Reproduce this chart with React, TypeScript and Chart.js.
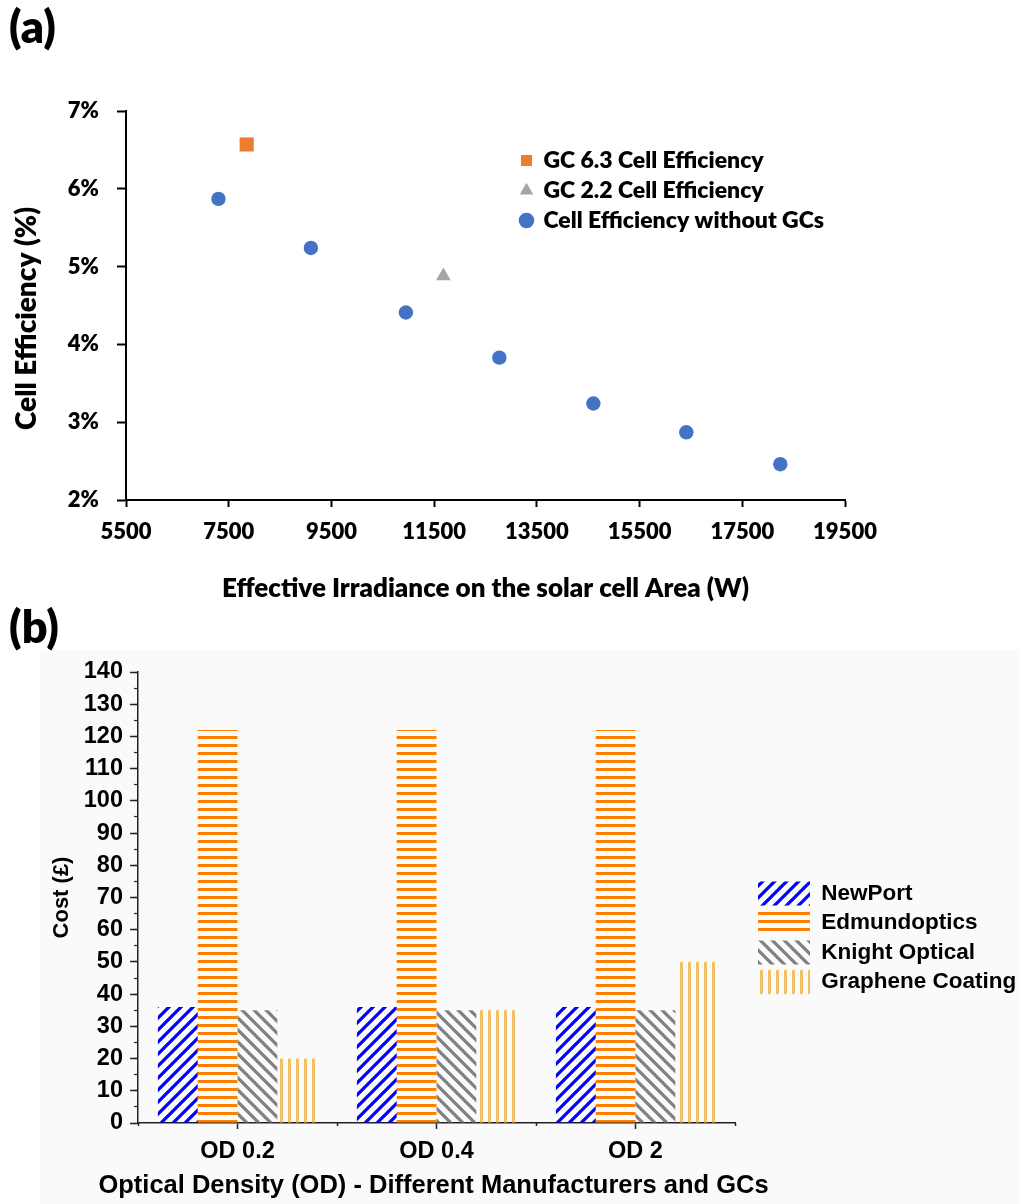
import React, { useEffect, useRef } from 'react';
import { Chart, registerables } from 'chart.js';

Chart.register(...registerables);

// ---------- Panel (a) data ----------
const irradianceNoGC = [7300, 9100, 10950, 12770, 14600, 16410, 18240];
const efficiencyNoGC = [5.87, 5.24, 4.41, 3.83, 3.24, 2.87, 2.46];
const irradianceGC63 = [7850];
const efficiencyGC63 = [6.57];
const irradianceGC22 = [11680];
const efficiencyGC22 = [4.88];
const xTickMin = 5500;
const xTickMax = 19500;
const xTickStep = 2000;
const yTickMin = 2;
const yTickMax = 7;
const yTickStep = 1;

// ---------- Panel (b) data ----------
const odCategories = ['OD 0.2', 'OD 0.4', 'OD 2'];
const newportCost = [36, 36, 36];
const edmundCost = [122, 122, 122];
const knightCost = [35, 35, 35];
const grapheneCost = [20, 35, 50];
const costMin = 0;
const costMax = 140;
const costStep = 10;
const costMinorStep = 5;
const costXTitle = 'Optical Density (OD) - Different Manufacturers and GCs';

type PatternKind = 'diagUp' | 'diagDown' | 'horiz' | 'vert';

function makePattern(kind: PatternKind, color: string, size: number, lw: number): CanvasPattern | string {
  const c = document.createElement('canvas');
  const long = size * 6;
  c.width = kind === 'horiz' ? long : size;
  c.height = kind === 'vert' ? long : size;
  const g = c.getContext('2d');
  if (!g) return color;
  g.fillStyle = color;
  g.strokeStyle = color;
  g.lineWidth = lw;
  if (kind === 'horiz') {
    g.fillRect(0, 0, long, lw);
  } else if (kind === 'vert') {
    g.fillRect(0, 0, lw, long);
  } else {
    g.beginPath();
    for (let k = -1; k <= 1; k++) {
      if (kind === 'diagUp') {
        g.moveTo(k * size - 1, size + 1);
        g.lineTo(k * size + size + 1, -1);
      } else {
        g.moveTo(k * size - 1, -1);
        g.lineTo(k * size + size + 1, size + 1);
      }
    }
    g.stroke();
  }
  return g.createPattern(c, 'repeat') || color;
}

const legendPlacer = (x: number, y: number) => ({
  id: 'legendPlacer',
  beforeDraw(chart: any) {
    const lg = chart.legend;
    if (!lg) return;
    const h = lg.bottom - lg.top;
    const w = lg.right - lg.left;
    lg.left = x;
    lg.top = y;
    lg.right = x + w;
    lg.bottom = y + h;
  },
});

const calibriLike = 'Lato, "Open Sans", sans-serif';
const arialLike = '"Liberation Sans", Arial, sans-serif';

function EfficiencyChart() {
  const ref = useRef<HTMLCanvasElement | null>(null);
  useEffect(() => {
    if (!ref.current) return;
    const tickFont = { family: calibriLike, size: 22, weight: '800' };
    const titleFont = { family: calibriLike, size: 26, weight: '800' };
    const yTitleFont = { family: calibriLike, size: 28, weight: '800' };
    const legendFont = { family: calibriLike, size: 23, weight: '800' };
    const chart = new Chart(ref.current, {
      type: 'scatter',
      data: {
        datasets: [
          {
            label: 'GC 6.3 Cell Efficiency',
            data: irradianceGC63.map((x, i) => ({ x, y: efficiencyGC63[i] })),
            pointStyle: 'rect',
            pointRadius: 10,
            pointBorderWidth: 0,
            borderWidth: 0,
            backgroundColor: '#ED7D31',
            borderColor: '#ED7D31',
          },
          {
            label: 'GC 2.2 Cell Efficiency',
            data: irradianceGC22.map((x, i) => ({ x, y: efficiencyGC22[i] })),
            pointStyle: 'triangle',
            pointRadius: 8.5,
            pointBorderWidth: 0,
            borderWidth: 0,
            backgroundColor: '#A5A5A5',
            borderColor: '#A5A5A5',
          },
          {
            label: 'Cell Efficiency without GCs',
            data: irradianceNoGC.map((x, i) => ({ x, y: efficiencyNoGC[i] })),
            pointStyle: 'circle',
            pointRadius: 7.2,
            pointBorderWidth: 0,
            borderWidth: 0,
            backgroundColor: '#4472C4',
            borderColor: '#4472C4',
          },
        ],
      },
      options: {
        responsive: false,
        animation: false,
        layout: { padding: { left: 0, top: 111, right: 175, bottom: 0 } },
        scales: {
          x: {
            type: 'linear',
            min: xTickMin,
            max: xTickMax,
            ticks: {
              stepSize: xTickStep,
              color: '#000',
              font: tickFont,
              padding: 12,
              maxRotation: 0,
              callback: (v: any) => String(v),
            },
            grid: { drawOnChartArea: false, tickLength: 7, tickColor: '#000', tickWidth: 2 },
            border: { color: '#000', width: 2 },
            title: {
              display: true,
              text: 'Effective Irradiance on the solar cell Area (W)',
              color: '#000',
              font: titleFont,
              padding: { top: 0, bottom: 1 },
            },
            afterFit: (s: any) => {
              s.height = 105;
            },
          },
          y: {
            type: 'linear',
            min: yTickMin,
            max: yTickMax,
            ticks: {
              stepSize: yTickStep,
              color: '#000',
              font: tickFont,
              padding: 18,
              callback: (v: any) => `${v}%`,
            },
            grid: { drawOnChartArea: false, tickLength: 9, tickColor: '#000', tickWidth: 2 },
            border: { color: '#000', width: 2 },
            title: {
              display: true,
              text: 'Cell Efficiency (%)    ',
              color: '#000',
              font: yTitleFont,
              padding: { top: 10, bottom: 0 },
            },
            afterFit: (s: any) => {
              s.width = 126;
            },
          },
        },
        plugins: {
          legend: {
            position: 'chartArea',
            align: 'start',
            labels: {
              usePointStyle: true,
              boxWidth: 11,
              boxHeight: 11,
              padding: 7,
              color: '#000',
              font: legendFont,
            },
          },
          tooltip: { enabled: false },
        },
      },
      plugins: [legendPlacer(514, 142)],
    } as any);
    return () => chart.destroy();
  }, []);
  return <canvas ref={ref} width={1020} height={605} style={{ display: 'block', width: 1020, height: 605 }} />;
}

function CostChart() {
  const ref = useRef<HTMLCanvasElement | null>(null);
  useEffect(() => {
    if (!ref.current) return;
    const tickFont = { family: arialLike, size: 23.5, weight: 'bold' as const };
    const legendFont = { family: arialLike, size: 22.5, weight: 'bold' as const };
    const axisColor = '#222';
    const xTitlePlugin = {
      id: 'costXTitle',
      afterDraw(chart: any) {
        const { ctx, chartArea } = chart;
        ctx.save();
        ctx.font = `bold 25.5px ${arialLike}`;
        ctx.fillStyle = '#000';
        ctx.textAlign = 'center';
        ctx.textBaseline = 'middle';
        ctx.fillText(costXTitle, (chartArea.left + chartArea.right) / 2 - 3, chartArea.bottom + 63);
        ctx.restore();
      },
    };
    const chart = new Chart(ref.current, {
      type: 'bar',
      data: {
        labels: odCategories,
        datasets: [
          { label: 'NewPort', data: newportCost, backgroundColor: makePattern('diagUp', '#0000FF', 12, 3.2), borderWidth: 0 },
          { label: 'Edmundoptics', data: edmundCost, backgroundColor: makePattern('horiz', '#FF8000', 8, 3), borderWidth: 0 },
          { label: 'Knight Optical', data: knightCost, backgroundColor: makePattern('diagDown', '#808080', 12, 3.2), borderWidth: 0 },
          { label: 'Graphene Coating', data: grapheneCost, backgroundColor: makePattern('vert', '#F2C062', 8, 3), borderWidth: 0 },
        ],
      },
      options: {
        responsive: false,
        animation: false,
        layout: { padding: { left: 40, top: 72, right: 285, bottom: 0 } },
        datasets: { bar: { categoryPercentage: 0.8, barPercentage: 1.0 } },
        scales: {
          x: {
            type: 'category',
            offset: true,
            ticks: { color: '#000', font: tickFont, padding: 8, maxRotation: 0 },
            grid: { offset: false, drawOnChartArea: false, tickLength: 6, tickColor: axisColor, tickWidth: 1.5 },
            border: { color: axisColor, width: 1.5 },
            title: { display: false },
            afterFit: (s: any) => {
              s.height = 81;
            },
          },
          x2: {
            type: 'category',
            position: 'bottom',
            weight: -1,
            offset: true,
            ticks: { display: false },
            grid: { offset: true, drawOnChartArea: false, tickLength: 3, tickColor: axisColor, tickWidth: 1.5 },
            border: { display: false },
            afterFit: (s: any) => {
              s.height = 0;
            },
          },
          y: {
            type: 'linear',
            min: costMin,
            max: costMax,
            ticks: { stepSize: costStep, color: '#000', font: tickFont, padding: 7 },
            grid: { drawOnChartArea: false, tickLength: 8, tickColor: axisColor, tickWidth: 1.5 },
            border: { color: axisColor, width: 1.5 },
            title: {
              display: true,
              text: 'Cost (£)',
              color: '#000',
              font: { family: arialLike, size: 22, weight: 'bold' },
              padding: { top: 9, bottom: 0 },
            },
            afterFit: (s: any) => {
              s.width = 98;
            },
          },
          y2: {
            type: 'linear',
            position: 'left',
            weight: -1,
            min: costMin,
            max: costMax,
            ticks: { display: false, stepSize: costMinorStep },
            grid: { drawOnChartArea: false, tickLength: 4, tickColor: axisColor, tickWidth: 1.2 },
            border: { display: false },
            afterFit: (s: any) => {
              s.width = 0;
            },
          },
        },
        plugins: {
          legend: {
            position: 'chartArea',
            align: 'start',
            labels: {
              boxWidth: 52,
              boxHeight: 24,
              padding: 5.5,
              color: '#000',
              font: legendFont,
            },
          },
          tooltip: { enabled: false },
        },
      },
      plugins: [legendPlacer(752.5, 276), xTitlePlugin],
    } as any);
    return () => chart.destroy();
  }, []);
  return <canvas ref={ref} width={1020} height={604} style={{ display: 'block', width: 1020, height: 604 }} />;
}

export default function App() {
  const panelLabel: React.CSSProperties = {
    position: 'absolute',
    left: 9,
    fontFamily: calibriLike,
    fontWeight: 800,
    fontSize: 45,
    lineHeight: '50px',
    color: '#000',
    margin: 0,
  };
  return (
    <div style={{ position: 'absolute', left: 0, top: 0, width: 1020, height: 1204, background: '#fff', overflow: 'hidden' }}>
      <div style={{ position: 'absolute', left: 40, top: 650, width: 980, height: 554, background: '#fafafa' }} />
      <div style={{ position: 'absolute', left: 0, top: 0 }}>
        <EfficiencyChart />
      </div>
      <div style={{ position: 'absolute', left: 0, top: 600 }}>
        <CostChart />
      </div>
      <div style={{ ...panelLabel, top: 1 }}>(a)</div>
      <div style={{ ...panelLabel, top: 601 }}>(b)</div>
    </div>
  );
}
